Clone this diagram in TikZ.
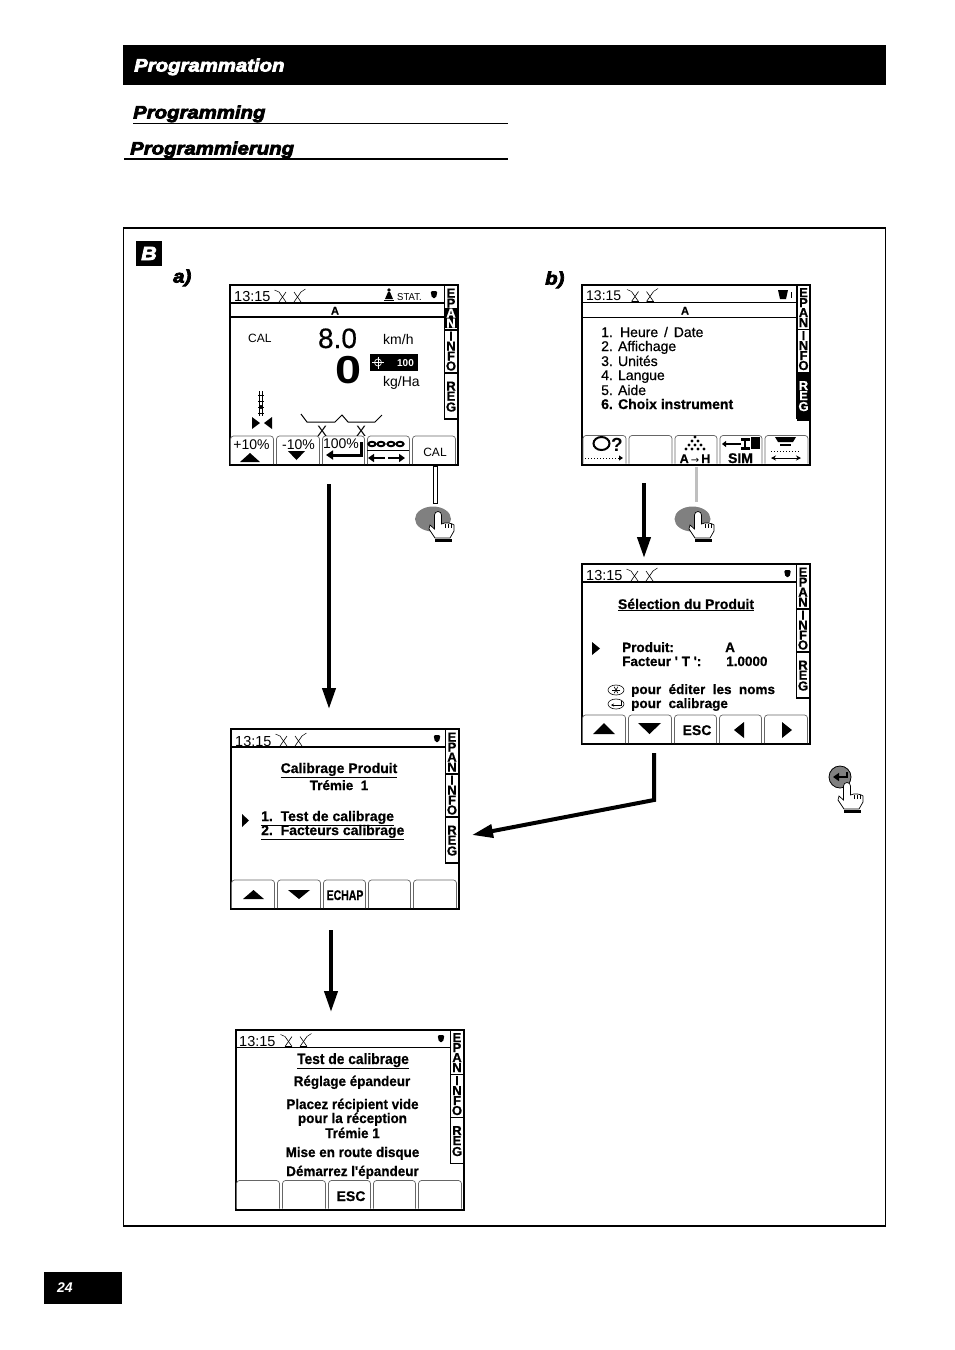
\documentclass[tikz,border=0pt]{standalone}
\usepackage{fontspec}
\setmainfont{Liberation Sans}
\newfontface\headfont[FakeBold=4,FakeStretch=1.13]{Liberation Sans Bold Italic}
\newfontface\lcdbold[FakeBold=0.7]{Liberation Sans Bold}
\newfontface\lcdmed[FakeBold=0.5]{Liberation Sans}
\usetikzlibrary{arrows.meta}

\newcommand{\fs}[1]{\fontsize{#1}{#1}\selectfont}

\tikzset{
    txt/.style={inner sep=0pt, anchor=west, text height=10pt, text depth=0pt},
    mid/.style={inner sep=0pt, anchor=center, text height=10pt, text depth=0pt},
    small/.style={text height=8pt},
    tabletter/.style={mid, text height=9pt, font=\lcdbold\fs{13}},
    boldtxt/.style={txt, font=\lcdbold\fs{13.5}},
    medtxt/.style={txt, font=\lcdmed\fs{14}},
    title/.style={mid, font=\lcdbold\fs{14}},
    clock/.style={txt, font=\fs{14.5}},
    keylabel/.style={mid, font=\lcdbold\fs{14}},
    heading/.style={txt, text height=13pt, font=\headfont\fs{18}},
    softkey/.style={draw=black!60, line width=0.7pt, rounded corners=3pt},
    lcdframe/.style={draw, line width=2pt, anchor=north west, inner sep=0pt, outer sep=0pt,
        minimum width=228pt, minimum height=180pt},
    lcdline/.style={line width=1.6pt},
    bigarrow/.style={line width=4pt, -{Triangle[width=13pt,length=21pt]}},
    hand/.pic={
        \draw[fill=white, line width=0.7pt] (-3.5,4) arc (180:360:3.5) -- (3.5,13)
            .. controls (7,11) and (14,12) .. (16,14) -- (16,20) -- (12,27) -- (-3,27)
            -- (-9,18) -- (-8,14) -- (-3.5,18) -- cycle;
        \foreach \k in {7,10,13}{
            \draw[line width=0.6pt] (\k,13) -- (\k,17);
        }
        \fill (-3,28) rectangle (14,31);
    },
    xmarks/.pic={
        \foreach \m in {0,15}{
            \draw[line width=0.6pt] (\m-3.5,-5) -- (\m+3.5,5);
            \draw[line width=0.6pt] (\m+3.5,-5) -- (\m-3.5,5);
            \draw[line width=0.6pt] (\m-3.5,5) -- (\m+3.5,5);
        }
        \draw[line width=0.5pt] (-8,-7) -- (-3.5,-5);
        \draw[line width=0.5pt] (18.5,-5) -- (23,-8);
    },
    cup/.pic={
        \fill[rounded corners=1.5pt] (-3.5,-4) -- (3.5,-4) -- (2,3) -- (-2,3) -- cycle;
    },
}

% frame, softkeys and side tabs of one display
\newcommand{\lcdscreen}[3]{
    \begin{scope}[shift={(#2,#3)}]
        \node[lcdframe] (#1) at (0,0) {};
        \draw[lcdline] (0,18) -- (215,18);
        \foreach \xa/\xb in {1/44,47/90,93/135,138/180,183/226}{
            \draw[softkey] (\xa,179) -- (\xa,151) -- (\xb,151) -- (\xb,179);
        }
        \draw[line width=1.2pt] (215,0) -- (215,134) -- (228,134);
        \draw[line width=1.2pt] (215,45) -- (228,45);
        \draw[line width=1.2pt] (215,88) -- (228,88);
        \foreach \tl/\ty in {E/8,P/18,A/28,N/38,I/51,N/61,F/71,O/81,R/101,E/111,G/122}{
            \node[tabletter] (#1-\ty) at (221.5,\ty) {\tl};
        }
        \pic at (53,12) {xmarks};
    \end{scope}
}

\begin{document}
\begin{tikzpicture}[x=1pt, y=-1pt]
        \useasboundingbox (0,0) rectangle (954,1350);
        \fill[white] (0,0) rectangle (954,1350);

        % page heading
        \fill (123,45) rectangle (886,85);
        \node[heading, text=white] (headFr) at (134,65) {Programmation};
        \node[heading] (headEn) at (133,112) {Programming};
        \draw[line width=1pt] (133,123.5) -- (508,123.5);
        \node[heading] (headDe) at (130,148) {Programmierung};
        \draw[line width=2pt] (124,159) -- (508,159);

        \draw[line width=1.5pt] (123.5,228) rectangle (885.5,1226);
        \fill (136,241) rectangle (162,266);
        \node[mid, text=white, text height=13pt, font=\headfont\fs{19}] (letterB) at (149,253.5) {B};
        \node[heading] (labelA) at (173,276) {a)};
        \node[heading] (labelB) at (545,278) {b)};

        % screen a)
        \lcdscreen{scrA}{229.5}{285}
        \draw[lcdline] (230,317) -- (444,317);
        \fill (444,308) rectangle (457,328);
        \node[tabletter, text=white] (tabA) at (451,313) {A};
        \node[tabletter, text=white] (tabN) at (451,323) {N};
        \node[clock] (clockA) at (234,296) {13:15};
        \node[txt, small, font=\fs{10}, xscale=0.95] (stat) at (397,296) {STAT.};
        \fill (389,290) circle (1.8);
        \fill (388,292) -- (390,292) -- (393,299) -- (385,299) -- cycle;
        \draw[line width=1pt] (384,300) -- (394,300);
        \pic at (434,295) {cup};
        \node[mid, small, font=\lcdbold\fs{11}] (barA) at (335,310.5) {A};
        \node[txt, small, font=\fs{12}] (calA) at (248,338) {CAL};
        \node[mid, text height=20pt, font=\lcdmed\fs{28}] (speed) at (337.5,338) {8.0};
        \node[mid, text height=28pt, font=\bfseries\fs{39}, xscale=1.2] (rate) at (348.5,369) {0};
        \node[txt, font=\fs{14}] (kmh) at (383,339) {km/h};
        \node[txt, font=\fs{14}] (kgha) at (383,381) {kg/Ha};
        \fill (370,354) rectangle (418,371);
        \draw[white, line width=0.7pt] (378,356.5) -- (378,368.5);
        \draw[white, line width=0.7pt] (372,362.5) -- (384,362.5);
        \draw[white, line width=0.7pt] (378,362.5) circle (3.5);
        \node[mid, small, text=white, font=\bfseries\fs{10}] (pct) at (405.5,362.5) {100};
        \draw[line width=0.7pt] (259.5,391) -- (259.5,416);
        \draw[line width=0.7pt] (262.5,391) -- (262.5,416);
        \foreach \y in {395,401,407,413}{
            \draw[line width=0.6pt] (258,\y) -- (264,\y);
        }
        \fill (261,407) circle (2);
        \fill (252,417) -- (260,423) -- (252,429) -- cycle;
        \fill (272,417) -- (264,423) -- (272,429) -- cycle;
        \draw[line width=1pt] (301,414) -- (307,422) -- (335,422) -- (342,415) -- (348,422) -- (375,422) -- (382,415);
        \node[mid, font=\fs{15}] (discL) at (322,431) {X};
        \node[mid, font=\fs{15}] (discR) at (361,431) {X};
        \node[mid, font=\fs{14}] (plus) at (251.5,444) {+10\%};
        \fill (240,462) -- (250,453) -- (260,462) -- cycle;
        \node[mid, font=\fs{14}] (minus) at (298.5,444) {-10\%};
        \fill (288,451) -- (305,451) -- (296.5,460) -- cycle;
        \node[mid, font=\fs{14}] (full) at (341,443) {100\%};
        \draw[line width=3pt, -{Triangle[width=9pt,length=7pt]}] (361,442) -- (361,455) -- (326,455);
        \foreach \x in {372,381,391,400}{
            \draw[line width=2pt] (\x,444) ellipse (3.6 and 2.2);
        }
        \draw[line width=0.7pt] (367,450) -- (409,450);
        \draw[line width=2.5pt, -{Triangle[width=8pt,length=6pt]}] (385,458) -- (368,458);
        \draw[line width=2.5pt, -{Triangle[width=8pt,length=6pt]}] (388,458) -- (405,458);
        \node[mid, small, font=\fs{12}] (calKey) at (435,452) {CAL};
        \draw[line width=0.7pt, fill=white] (433,466) rectangle (437,503);
        \fill[black!50] (433,519) ellipse (18 and 12.5);
        \pic at (438,511) {hand};

        % screen b)
        \lcdscreen{scrB}{582}{284.5}
        \draw[lcdline] (582,317.5) -- (797,317.5);
        \fill (797,373) rectangle (810,421);
        \foreach \tl/\ty in {R/385.5,E/395.5,G/406.5}{
            \node[tabletter, text=white] (tabB\tl) at (803.5,\ty) {\tl};
        }
        \node[clock, font=\fs{14}] (clockB) at (586,295) {13:15};
        \fill (778,290) -- (788,290) -- (786,299) -- (780,299) -- cycle;
        \draw[line width=0.5pt] (791,292) -- (791,298);
        \node[mid, small, font=\lcdbold\fs{11}] (barB) at (685,310.5) {A};
        \node[medtxt] (menu1) at (601,332) {\spaceskip 0.42em 1. Heure / Date};
        \node[medtxt] (menu2) at (601,346) {2. Affichage};
        \node[medtxt] (menu3) at (601,361) {3. Unités};
        \node[medtxt] (menu4) at (601,375) {4. Langue};
        \node[medtxt] (menu5) at (601,390) {5. Aide};
        \node[txt, font=\lcdbold\fs{14}] (menu6) at (601,404) {6. Choix instrument};
        \draw[line width=2pt] (601.5,443.5) ellipse (8 and 6.5);
        \node[mid, text height=14pt, font=\bfseries\fs{19}] (help) at (617,444) {?};
        \draw[line width=1pt, dotted, -{Triangle[width=5pt,length=4pt]}] (585,458) -- (623,458);
        \foreach \x/\y in {695/437,692/441,698/441,689/445,695/445,701/445,686/449,692/449,698/449,704/449}{
            \fill (\x,\y) circle (1.7);
        }
        \node[keylabel, font=\lcdbold\fs{12.5}] (atoh) at (695,458) {A\,{\fontspec{DejaVu Sans}\fs{10}→}\,H};
        \draw[line width=1.5pt, -{Triangle[width=6pt,length=4pt]}] (741,444) -- (722,444);
        \fill (741,438) rectangle (750,441);
        \fill (741,447) rectangle (750,450);
        \draw[line width=2pt] (745,438) -- (745,450);
        \fill (751,437) rectangle (760,449);
        \node[keylabel] (sim) at (740.5,458) {SIM};
        \fill (775,437) -- (796,437) -- (793,442) -- (778,442) -- cycle;
        \fill (780,444) rectangle (791,446);
        \draw[line width=1pt, dotted] (771,451) -- (801,451);
        \draw[line width=0.8pt, {Stealth[width=5pt,length=5pt]}-{Stealth[width=5pt,length=5pt]}] (771,458) -- (801,458);
        \draw[line width=3pt, black!25] (696,467) -- (696,502);
        \fill[black!50] (692.5,519) ellipse (18 and 12.5);
        \pic at (698,511) {hand};

        % selection screen
        \lcdscreen{scrSel}{581.5}{564}
        \node[clock] (clockSel) at (586,575) {13:15};
        \pic at (787.5,574) {cup};
        \node[title] (selTitle) at (686,604) {\underline{Sélection du Produit}};
        \fill (592,642) -- (600,648.5) -- (592,655) -- cycle;
        \node[boldtxt] (produit) at (622,647) {Produit:};
        \node[boldtxt] (produitA) at (725,647) {A};
        \node[boldtxt] (facteur) at (622,661) {Facteur ' T ':};
        \node[boldtxt] (facteurT) at (726,661) {1.0000};
        \draw[line width=0.6pt] (616,690) ellipse (8 and 5);
        \foreach \a in {0,60,120}{
            \draw[line width=0.6pt] (616,690) ++(\a:3.8) -- ++(\a+180:7.6);
        }
        \node[boldtxt] (editer) at (631,689) {\spaceskip 0.55em pour éditer les noms};
        \draw[line width=0.6pt] (616,704) ellipse (8 and 5);
        \draw[line width=0.6pt, -{Stealth[width=3pt,length=3pt]}] (621,701) -- (621,705) -- (611,705);
        \node[boldtxt] (calibrage) at (631,703) {\spaceskip 0.55em pour calibrage};
        \fill (593,734) -- (604,723) -- (615,734) -- cycle;
        \fill (638,723) -- (661,723) -- (649.5,734) -- cycle;
        \node[keylabel] (escSel) at (697,730) {ESC};
        \fill (744,722) -- (744,738) -- (734,730) -- cycle;
        \fill (782,722) -- (782,738) -- (792,730) -- cycle;

        % enter key on its own
        \draw[line width=0.8pt, fill=black!50] (840,777) circle (11);
        \draw[line width=2.5pt, -{Triangle[width=8pt,length=6pt]}] (847,772) -- (847,777) -- (833,777);
        \pic at (847,782) {hand};

        % calibration screen
        \lcdscreen{scrCal}{230.5}{729}
        \node[clock] (clockCal) at (235,741) {13:15};
        \pic at (437,739) {cup};
        \node[title] (calTitle) at (339,768) {\underline{Calibrage Produit}};
        \node[title, font=\lcdbold\fs{13.5}] (calHopper) at (339,785) {Trémie\ \ 1};
        \fill (242,814) -- (249,820.5) -- (242,827) -- cycle;
        \node[boldtxt, font=\lcdbold\fs{14}] (calItem1) at (261,816) {\underline{1.\ \ Test de calibrage}};
        \node[boldtxt, font=\lcdbold\fs{14}] (calItem2) at (261,830) {\underline{2.\ \ Facteurs calibrage}};
        \fill (243,899) -- (253.5,890) -- (264,899) -- cycle;
        \fill (288,890) -- (310,890) -- (299,899) -- cycle;
        \node[keylabel, xscale=0.75] (echap) at (345,895) {ECHAP};

        % test screen
        \lcdscreen{scrTest}{235.5}{1029.5}
        \node[clock] (clockTest) at (239,1041) {13:15};
        \pic at (441,1039) {cup};
        \node[title, font=\lcdbold\fs{15}, xscale=0.92] (testTitle) at (353,1059) {\underline{Test de calibrage}};
        \node[title, xscale=0.96] (test1) at (352,1081) {Réglage épandeur};
        \node[title, xscale=0.96] (test2) at (352.5,1104) {Placez récipient vide};
        \node[title, xscale=0.96] (test3) at (352.5,1118) {pour la réception};
        \node[title, xscale=0.96] (test4) at (352.5,1133) {Trémie 1};
        \node[title, xscale=0.96] (test5) at (352.5,1152) {Mise en route disque};
        \node[title, xscale=0.96] (test6) at (352.5,1171) {Démarrez l'épandeur};
        \node[keylabel] (escTest) at (351,1196) {ESC};

        % connectors between the screens
        \coordinate (a1) at (329,484);
        \coordinate (a2) at (329,709);
        \coordinate (b1) at (644,483);
        \coordinate (b2) at (644,558);
        \coordinate (c1) at (654,753);
        \coordinate (c2) at (654,800);
        \coordinate (c3) at (472,835);
        \coordinate (d1) at (331,930);
        \coordinate (d2) at (331,1012);
        \draw[bigarrow] (a1) -- (a2);
        \draw[bigarrow] (b1) -- (b2);
        \draw[bigarrow] (c1) -- (c2) -- (c3);
        \draw[bigarrow] (d1) -- (d2);

        % page number
        \fill (44,1272) rectangle (122,1304);
        \node[txt, text=white, font=\bfseries\itshape\fs{14}] (pageNo) at (57,1287) {24};
    \end{tikzpicture}
\end{document}
